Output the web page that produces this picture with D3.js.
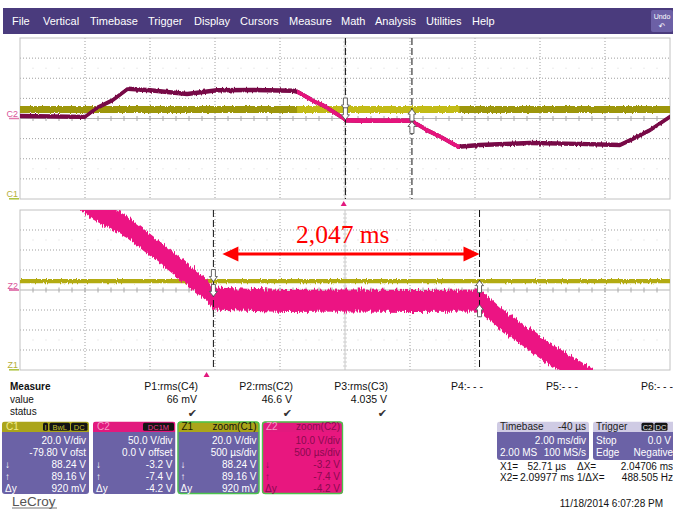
<!DOCTYPE html>
<html><head><meta charset="utf-8">
<script src="https://cdn.jsdelivr.net/npm/d3@7"></script>
<style>
html,body{margin:0;padding:0;background:#fff;}
svg{display:block;font-family:"Liberation Sans",Arial,sans-serif;}
</style></head><body>
<svg id="scope" width="673" height="510"></svg>
<script>
// ---------- menu ----------
const menuItems = ["File","Vertical","Timebase","Trigger","Display","Cursors","Measure","Math","Analysis","Utilities","Help"];

// ---------- acquisition ----------
const timebaseDiv = 2.0;        // ms/div
const timebaseDelay = -0.04;    // ms
const zoomDiv = 0.5;            // ms/div
const zoomCenter = 1.065;       // ms
const triggerTime = 0;          // ms
const c1VoltsDiv = 20, c1Offset = -79.8;
const c2VoltsDiv = 50, c2Offset = 0;
const z2VoltsDiv = 10;

// C2 waveform (ms, V)
const c2Time  = [-9.96, -7.96, -7.6, -7.1, -6.64, -5.96, -4.82, -3.9, -2.79, -1.56, -1.41,
                 -0.973, -0.873, -0.612, -0.358, -0.104, 0.003, 0.05, 0.6, 1.1, 1.6, 2.103,
                 2.28, 2.488, 2.611, 2.973, 3.52, 4.19, 5.73, 7.2, 8.5, 8.81, 9.42, 10.04];
const c2Volts = [6, 4, 26, 46, 74, 70, 61, 70, 71, 69, 66,
                 45.75, 40.75, 31.5, 18.75, 5.5, 0, -4.25, -5.5, -5.2, -5.5, -5.25,
                 -15.2, -25, -30.9, -45, -70, -66, -61, -63, -66, -54, -29, 4.5];
const c2Noise = 5.5;            // V, half-width of noise envelope

// C1 waveform (ms, V)
const c1Time  = [-9.96, 10.04];
const c1Volts = [88.7, 88.7];
const c1NoiseMain = 3.4, c1NoiseZoom = 2.2;

// cursors
const cursorTime = [0.05271, 2.09977];   // ms
const cursorC1 = [88.24, 89.16];         // V
const cursorC2 = [-3.2, -7.4];           // V

// measurements
const measureNames  = ["P1:rms(C4)","P2:rms(C2)","P3:rms(C3)","P4:- - -","P5:- - -","P6:- - -"];
const measureValues = ["66 mV","46.6 V","4.035 V","","",""];
const measureStatus = [true,true,true,false,false,false];

// channel descriptors
const chanNames  = ["C1","C2","Z1","Z2"];
const chanTitles = ["","","zoom(C1)","zoom(C2)"];
const chanScale  = ["20.0 V/div","50.0 V/div","20.0 V/div","10.0 V/div"];
const chanSecond = ["-79.80 V ofst","0.0 V offset","500 µs/div","500 µs/div"];
const chanSource = ["C1","C2","C1","C2"];

const timebaseText = ["Timebase","-40 µs","2.00 ms/div","2.00 MS","100 MS/s"];
const triggerText  = ["Trigger","Stop","0.0 V","Edge","Negative"];
const dateText = "11/18/2014 6:07:28 PM";

// ---------- drawing ----------
const svg = d3.select("#scope");
const defs = svg.append("defs");

const pinkBright = "#E5147D", maroon = "#780A47";
const yellowBright = "#C2BB16", yellowDim = "#9D960B";
const zoomYellow = "#B3AB12", zoomPink = "#EC1483";
const purple = "#6B62A6", olive = "#ABA51A", pinkHead = "#E2197E";

// menu bar
svg.append("rect").attr("x",3).attr("y",8).attr("width",670).attr("height",26).attr("fill","#4A3B7D");
const menuX = [12, 43, 90, 148, 194, 240, 289, 341, 375, 426, 472];
svg.append("g").selectAll("text").data(menuItems).join("text")
  .attr("x",(d,i)=>menuX[i]).attr("y",24.5).attr("fill","#fff").attr("font-size",11).text(d=>d);
svg.append("rect").attr("x",651).attr("y",10).attr("width",22).attr("height",22).attr("rx",2).attr("fill","#6C60A6");
svg.append("text").attr("x",662).attr("y",19).attr("text-anchor","middle").attr("font-size",7).attr("fill","#fff").text("Undo");
svg.append("text").attr("x",662).attr("y",29).attr("text-anchor","middle").attr("font-size",8).attr("fill","#fff").attr("font-family","DejaVu Sans").text("↶");

// scales
const X0 = 20, X1 = 670;
const topY = [38, 199], botY = [210, 370];
const mainCenter = -timebaseDelay;
const xMain = d3.scaleLinear().domain([mainCenter - 5*timebaseDiv, mainCenter + 5*timebaseDiv]).range([X0, X1]);
const xZoom = d3.scaleLinear().domain([zoomCenter - 5*zoomDiv, zoomCenter + 5*zoomDiv]).range([X0, X1]);
const yC2 = d3.scaleLinear().domain([-4*c2VoltsDiv - c2Offset, 4*c2VoltsDiv - c2Offset]).range([topY[1], topY[0]]);
const yC1 = d3.scaleLinear().domain([-4*c1VoltsDiv - c1Offset, 4*c1VoltsDiv - c1Offset]).range([topY[1], topY[0]]);
const yZ2 = d3.scaleLinear().domain([-4*z2VoltsDiv - c2Offset, 4*z2VoltsDiv - c2Offset]).range([botY[1], botY[0]]);
const yZ1 = d3.scaleLinear().domain([-4*c1VoltsDiv - c1Offset, 4*c1VoltsDiv - c1Offset]).range([botY[1], botY[0]]);

// clip paths
function clipRect(id, x, y, w, h){
  defs.append("clipPath").attr("id",id).append("rect").attr("x",x).attr("y",y).attr("width",w).attr("height",h);
  return "url(#"+id+")";
}
const clipTop = clipRect("clipTop", X0, topY[0], X1-X0, topY[1]-topY[0]);
const clipBot = clipRect("clipBot", X0, botY[0], X1-X0, botY[1]-botY[0]);
const hiX0 = xMain(xZoom.domain()[0]), hiX1 = xMain(xZoom.domain()[1]);
const clipHi = clipRect("clipHi", hiX0, topY[0], hiX1-hiX0, topY[1]-topY[0]);

// noise-edge filter (vertical displacement only)
function fuzz(id, scale, freq){
  const f = defs.append("filter").attr("id",id).attr("filterUnits","userSpaceOnUse")
    .attr("x",0).attr("y",0).attr("width",673).attr("height",510)
    .attr("color-interpolation-filters","sRGB");
  f.append("feTurbulence").attr("type","fractalNoise").attr("baseFrequency",freq).attr("numOctaves",2).attr("seed",7).attr("result","n");
  f.append("feColorMatrix").attr("in","n").attr("type","matrix")
    .attr("values","0 0 0 0 0.5  0 1 0 0 0  0 0 0 0 0  0 0 0 0 1").attr("result","m");
  f.append("feDisplacementMap").attr("in","SourceGraphic").attr("in2","m").attr("scale",scale)
    .attr("xChannelSelector","R").attr("yChannelSelector","G");
  return "url(#"+id+")";
}
const fuzzBig = fuzz("fuzzBig", 9, "0.7 0.02");
const fuzzSmall = fuzz("fuzzSmall", 3, "0.8 0.05");

// graticule
function graticule(y0, y1){
  const g = svg.append("g");
  const gx = d3.scaleLinear().domain([0,10]).range([X0, X1]);
  const gy = d3.scaleLinear().domain([0,8]).range([y0, y1]);
  g.append("rect").attr("x",X0).attr("y",y0).attr("width",X1-X0).attr("height",y1-y0).attr("fill","#fff");
  // faint sub-dots
  [1.5, 6.5].forEach(r=>{
    d3.range(1,50).filter(k=>k%5!==0).forEach(k=>{
      g.append("rect").attr("x",gx(k/5)-0.5).attr("y",gy(r)-0.5).attr("width",1).attr("height",1).attr("fill","#d6d6d6");
    });
  });
  d3.range(1,10).filter(i=>i!==5).forEach(i=>{
    g.append("line").attr("x1",gx(i)).attr("x2",gx(i)).attr("y1",y0).attr("y2",y1)
      .attr("stroke","#949494").attr("stroke-width",0.9).attr("stroke-dasharray","1,2");
  });
  d3.range(1,8).filter(j=>j!==4).forEach(j=>{
    g.append("line").attr("x1",X0).attr("x2",X1).attr("y1",gy(j)).attr("y2",gy(j))
      .attr("stroke","#949494").attr("stroke-width",0.9).attr("stroke-dasharray","1,2");
  });
  // centre axes with minor ticks
  g.append("line").attr("x1",X0).attr("x2",X1).attr("y1",gy(4)).attr("y2",gy(4)).attr("stroke","#b4b4b4");
  g.append("line").attr("x1",gx(5)).attr("x2",gx(5)).attr("y1",y0).attr("y2",y1).attr("stroke","#c8c8c8");
  d3.range(1,50).forEach(k=>{
    g.append("line").attr("x1",gx(k/5)).attr("x2",gx(k/5)).attr("y1",gy(4)-2.5).attr("y2",gy(4)+2.5).attr("stroke","#a8a8a8");
  });
  d3.range(1,40).forEach(k=>{
    g.append("line").attr("y1",gy(k/5)).attr("y2",gy(k/5)).attr("x1",gx(5)-2).attr("x2",gx(5)+2).attr("stroke","#d0d0d0");
  });
  g.append("rect").attr("x",X0).attr("y",y0).attr("width",X1-X0).attr("height",y1-y0)
    .attr("fill","none").attr("stroke","#c2c2c2");
}
graticule(topY[0], topY[1]);
graticule(botY[0], botY[1]);

const c2Pts = c2Time.map((t,i)=>({t, v:c2Volts[i]}));
const c1Pts = c1Time.map((t,i)=>({t, v:c1Volts[i]}));

function band(x, y, noise){
  return d3.area().x(d=>x(d.t)).y0(d=>y(d.v - noise)).y1(d=>y(d.v + noise));
}
function trace(x, y){ return d3.line().x(d=>x(d.t)).y(d=>y(d.v)); }

// ---- main (top) traces ----
const gTop = svg.append("g").attr("clip-path", clipTop);
const c1Band = band(xMain, yC1, c1NoiseMain)(c1Pts);
gTop.append("path").attr("d", c1Band).attr("fill", yellowDim).attr("filter", fuzzSmall);
gTop.append("g").attr("clip-path", clipHi).append("path").attr("d", c1Band).attr("fill", yellowBright).attr("filter", fuzzSmall);
const c2Band = band(xMain, yC2, c2Noise)(c2Pts);
const c2Line = trace(xMain, yC2)(c2Pts);
gTop.append("path").attr("d", c2Band).attr("fill", maroon).attr("filter", fuzzSmall);
gTop.append("path").attr("d", c2Line).attr("fill","none").attr("stroke", maroon).attr("stroke-width",3)
  .attr("stroke-linejoin","round");
const gHi = gTop.append("g").attr("clip-path", clipHi);
gHi.append("path").attr("d", c2Band).attr("fill", pinkBright).attr("filter", fuzzSmall);
gHi.append("path").attr("d", c2Line).attr("fill","none").attr("stroke", pinkBright).attr("stroke-width",3)
  .attr("stroke-linejoin","round");

// ---- zoom (bottom) traces ----
const gBot = svg.append("g").attr("clip-path", clipBot);
gBot.append("path").attr("d", band(xZoom, yZ1, c1NoiseZoom)(c1Pts)).attr("fill", zoomYellow).attr("filter", fuzzSmall);
gBot.append("path").attr("d", band(xZoom, yZ2, c2Noise)(c2Pts)).attr("fill", zoomPink).attr("filter", fuzzBig);

// ---- cursors ----
function arrow(g, x, tipY, dir){
  // dir = 1 points down, -1 points up
  const s = dir;
  const p = `M${x-2},${tipY-12*s} H${x+2} V${tipY-5*s} H${x+4} L${x},${tipY} L${x-4},${tipY-5*s} H${x-2} Z`;
  g.append("path").attr("d", p).attr("fill","#fff").attr("stroke","#555").attr("stroke-width",0.9);
}
function cursors(x, yTop, yBot, yA, yB){
  const g = svg.append("g");
  cursorTime.forEach(t=>{
    g.append("line").attr("x1",x(t)).attr("x2",x(t)).attr("y1",yTop).attr("y2",yBot)
      .attr("stroke","#111").attr("stroke-dasharray","7,3");
  });
  arrow(g, x(cursorTime[0]), yA(cursorC1[0]), 1);
  arrow(g, x(cursorTime[0]), yB(cursorC2[0]), 1);
  arrow(g, x(cursorTime[1]), yA(cursorC1[1]), -1);
  arrow(g, x(cursorTime[1]), yB(cursorC2[1]), -1);
}
cursors(xMain, topY[0], topY[1], yC1, yC2);
cursors(xZoom, botY[0], botY[1], yZ1, yZ2);

// trigger markers
function trig(x, y){
  svg.append("path").attr("d", `M${x-3},${y+5} L${x+3},${y+5} L${x},${y} Z`).attr("fill", pinkHead);
}
trig(xMain(triggerTime), topY[1]+2);
trig(xZoom(triggerTime), botY[1]+2);

// channel ground labels
function groundLabel(name, y, col, lineCol){
  svg.append("text").attr("x",18).attr("y",y-1.5).attr("text-anchor","end").attr("font-size",9).attr("fill",col).text(name);
  svg.append("line").attr("x1",9).attr("x2",19).attr("y1",y).attr("y2",y).attr("stroke",lineCol).attr("stroke-width",1.5);
}
groundLabel("C2", yC2(0), "#D9559A", "#E27AAE");
groundLabel("C1", yC1(0), "#B5AE3A", "#A9C23A");
groundLabel("Z2", yZ2(0), "#D9559A", "#D9559A");
groundLabel("Z1", yZ1(0), "#B5AE3A", "#A9C23A");

// delta-time annotation
const dX = cursorTime[1] - cursorTime[0];
const ay = 254;
const ax0 = xZoom(cursorTime[0]) + 9, ax1 = xZoom(cursorTime[1]);
svg.append("line").attr("x1",ax0+14).attr("x2",ax1-14).attr("y1",ay).attr("y2",ay).attr("stroke","#FF0000").attr("stroke-width",3);
svg.append("path").attr("d",`M${ax0},${ay} L${ax0+16},${ay-7.5} L${ax0+16},${ay+7.5} Z`).attr("fill","#FF0000");
svg.append("path").attr("d",`M${ax1},${ay} L${ax1-16},${ay-7.5} L${ax1-16},${ay+7.5} Z`).attr("fill","#FF0000");
svg.append("text").attr("x",296).attr("y",243).attr("font-family","'Liberation Serif','Times New Roman',serif")
  .attr("font-size",25.5).attr("fill","#FF0000").text(dX.toFixed(3).replace(".", ",") + " ms");

// ---- measurement table ----
const mt = svg.append("g").attr("font-size",10).attr("fill","#111");
mt.append("text").attr("x",10).attr("y",390).attr("font-weight","bold").text("Measure");
mt.append("text").attr("x",10).attr("y",402.5).text("value");
mt.append("text").attr("x",10).attr("y",415).text("status");
measureNames.forEach((n,i)=>{
  const xr = 198 + i*95;
  mt.append("text").attr("x",xr).attr("y",390).attr("text-anchor","end").attr("font-size",10.5).text(n);
  if (measureValues[i]) mt.append("text").attr("x",xr-1).attr("y",402.5).attr("text-anchor","end").attr("font-size",10.5).text(measureValues[i]);
  if (measureStatus[i]) mt.append("text").attr("x",xr-1).attr("y",417).attr("text-anchor","end")
    .attr("font-family","DejaVu Sans").attr("font-size",11).attr("fill","#333").text("✔");
});

// ---- channel boxes ----
const boxX = [2, 93, 177.5, 262], boxW = [87, 82.5, 82, 81];
const boxY = 421.5, boxH = 72.5, headH = 10.5;
const rowY = [444, 456, 468, 480, 491.5];
function fmtV(v){ return v.toFixed(2) + " V"; }
chanNames.forEach((name,i)=>{
  const x = boxX[i], w = boxW[i];
  const isC1 = chanSource[i] === "C1";
  const id = "box"+i;
  defs.append("clipPath").attr("id",id).append("rect").attr("x",x).attr("y",boxY).attr("width",w).attr("height",boxH).attr("rx",3);
  const g = svg.append("g");
  const gc = g.append("g").attr("clip-path","url(#"+id+")");
  const head = isC1 ? olive : pinkHead;
  const body = (name === "Z2") ? "#E8177F" : purple;
  gc.append("rect").attr("x",x).attr("y",boxY).attr("width",w).attr("height",headH).attr("fill",head);
  gc.append("rect").attr("x",x).attr("y",boxY+headH).attr("width",w).attr("height",boxH-headH).attr("fill",body);
  if (name[0] === "Z") {
    g.append("rect").attr("x",x+0.5).attr("y",boxY+0.5).attr("width",w-1).attr("height",boxH-1).attr("rx",3)
      .attr("fill","none").attr("stroke","#4CC44C").attr("stroke-width",1.4);
  }
  const headTextCol = isC1 ? (name === "C1" ? "#F2EC8A" : "#1A1A00") : "#F59AC6";
  g.append("text").attr("x",x+4).attr("y",430).attr("font-size",10).attr("fill",headTextCol).text(name);
  if (chanTitles[i]) g.append("text").attr("x",x+w-3).attr("y",430).attr("text-anchor","end").attr("font-size",10)
    .attr("fill", isC1 ? "#111" : "#8A0A50").text(chanTitles[i]);
  const txt = (name === "Z2") ? "#8A0A50" : "#fff";
  const c1 = isC1 ? cursorC1 : cursorC2;
  const dy = c1[1] - c1[0];
  const vals = [chanScale[i], chanSecond[i],
    isC1 ? fmtV(c1[0]) : c1[0].toFixed(1) + " V",
    isC1 ? fmtV(c1[1]) : c1[1].toFixed(1) + " V",
    isC1 ? Math.round(dy*1000) + " mV" : dy.toFixed(1) + " V"];
  vals.forEach((v,k)=>{
    g.append("text").attr("x",x+w-3).attr("y",rowY[k]).attr("text-anchor","end").attr("font-size",10).attr("fill",txt).text(v);
  });
  ["↓","↑","Δy"].forEach((s,k)=>{
    g.append("text").attr("x",x+3).attr("y",rowY[k+2]).attr("font-size",10).attr("fill",txt).text(s);
  });
});
// header badges
function badge(x, w, label, col){
  svg.append("rect").attr("x",x).attr("y",boxY+1.3).attr("width",w).attr("height",8).attr("rx",1.5).attr("fill","#141414");
  svg.append("text").attr("x",x+w/2).attr("y",boxY+8).attr("text-anchor","middle").attr("font-size",7.5).attr("fill",col).text(label);
}
badge(43, 5, "I", "#C8C030");
badge(49.5, 20.5, "BwL", "#C8C030");
badge(71, 16.5, "DC", "#C8C030");
badge(143, 31, "DC1M", "#EE3A90");

// ---- timebase / trigger ----
function infoBox(x, w, id){
  defs.append("clipPath").attr("id",id).append("rect").attr("x",x).attr("y",boxY).attr("width",w).attr("height",38.5).attr("rx",3);
  const g = svg.append("g").attr("clip-path","url(#"+id+")");
  g.append("rect").attr("x",x).attr("y",boxY).attr("width",w).attr("height",headH).attr("fill","#CFCBE4");
  g.append("rect").attr("x",x).attr("y",boxY+headH).attr("width",w).attr("height",38.5-headH).attr("fill",purple);
}
infoBox(497, 92, "tbBox");
infoBox(593, 84, "trBox");
const it = svg.append("g").attr("font-size",10);
it.append("text").attr("x",500).attr("y",430).attr("fill","#222").text(timebaseText[0]);
it.append("text").attr("x",586).attr("y",430).attr("text-anchor","end").attr("fill","#222").text(timebaseText[1]);
it.append("text").attr("x",586).attr("y",444).attr("text-anchor","end").attr("fill","#fff").text(timebaseText[2]);
it.append("text").attr("x",500).attr("y",456).attr("fill","#fff").text(timebaseText[3]);
it.append("text").attr("x",586).attr("y",456).attr("text-anchor","end").attr("fill","#fff").text(timebaseText[4]);
it.append("text").attr("x",596).attr("y",430).attr("fill","#222").text(triggerText[0]);
it.append("text").attr("x",596).attr("y",444).attr("fill","#fff").text(triggerText[1]);
it.append("text").attr("x",671).attr("y",444).attr("text-anchor","end").attr("fill","#fff").text(triggerText[2]);
it.append("text").attr("x",596).attr("y",456).attr("fill","#fff").text(triggerText[3]);
it.append("text").attr("x",673).attr("y",456).attr("text-anchor","end").attr("fill","#fff").text(triggerText[4]);
badge(641.5, 12, "C2", "#E8E8E8");
badge(654.5, 13, "DC", "#E8E8E8");

// cursor readouts
const cr = svg.append("g").attr("font-size",10).attr("fill","#111");
cr.append("text").attr("x",500).attr("y",470).text("X1=");
cr.append("text").attr("x",566).attr("y",470).attr("text-anchor","end").text((cursorTime[0]*1000).toFixed(2) + " µs");
cr.append("text").attr("x",577).attr("y",470).text("ΔX=");
cr.append("text").attr("x",673).attr("y",470).attr("text-anchor","end").text(dX.toFixed(5) + " ms");
cr.append("text").attr("x",500).attr("y",481).text("X2=");
cr.append("text").attr("x",574).attr("y",481).attr("text-anchor","end").attr("textLength",54).attr("lengthAdjust","spacingAndGlyphs")
  .text(cursorTime[1].toFixed(5) + " ms");
cr.append("text").attr("x",577).attr("y",481).text("1/ΔX=");
cr.append("text").attr("x",673).attr("y",481).attr("text-anchor","end").text((1000/dX).toFixed(3) + " Hz");
cr.append("text").attr("x",663).attr("y",507).attr("text-anchor","end").text(dateText);

// brand
svg.append("text").attr("x",12).attr("y",505.5).attr("font-size",13.5).attr("fill","#555").text("LeCroy");
svg.append("line").attr("x1",12).attr("x2",57).attr("y1",508).attr("y2",508).attr("stroke","#777");
</script>
</body></html>
